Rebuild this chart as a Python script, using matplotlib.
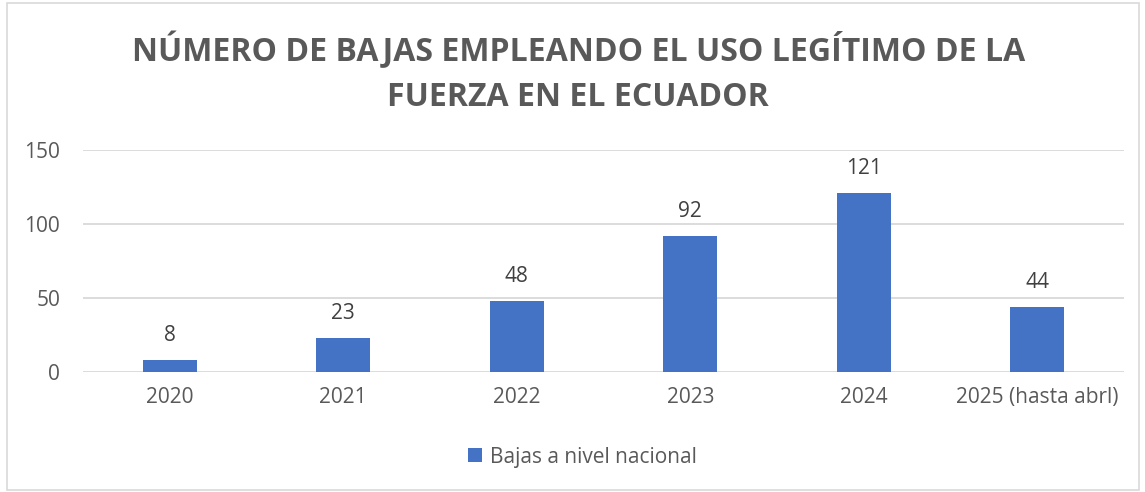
import matplotlib
matplotlib.use("Agg")
import matplotlib.pyplot as plt
from matplotlib.patches import Rectangle

categories = ["2020", "2021", "2022", "2023", "2024", "2025 (hasta abrl)"]
values = [8, 23, 48, 92, 121, 44]
series_name = "Bajas a nivel nacional"
title = "NÚMERO DE BAJAS EMPLEANDO EL USO LEGÍTIMO DE LA\nFUERZA EN EL ECUADOR"
yticks = [0, 50, 100, 150]

TXT = "#595959"
BAR = "#4472C4"
GRID = "#D9D9D9"
plt.rcParams['font.family'] = ['Open Sans', 'DejaVu Sans']

fig = plt.figure(figsize=(11.45, 4.92), dpi=100)
ax = fig.add_axes([83/1145, 1-372/492, (1124-83)/1145, (372-150)/492])

x = list(range(len(categories)))
bars = ax.bar(x, values, width=0.31, color=BAR, zorder=3, label=series_name)
for xi, v in zip(x, values):
    ax.annotate(str(v), (xi, v), xytext=(0, 10), textcoords="offset points",
                ha="center", va="bottom", fontsize=15, color="#404040")

ax.set_xlim(-0.5, len(categories) - 0.5)
ax.set_ylim(0, 150)
ax.set_yticks(yticks)
ax.set_xticks(x)
ax.set_xticklabels(categories)
ax.tick_params(axis="both", length=0, labelsize=15, labelcolor=TXT)
ax.tick_params(axis="y", pad=16.5)
ax.tick_params(axis="x", pad=11)
ax.yaxis.grid(True, color=GRID, linewidth=1.3, zorder=0)
for s in ax.spines.values():
    s.set_visible(False)

fig.text(0.505, 1-73/492, title, ha="center", va="center", fontsize=23,
         fontweight="bold", color=TXT, linespacing=1.45)

leg = fig.legend(handles=[bars], labels=[series_name], loc="center",
                 bbox_to_anchor=(0.509, 1-457/492), frameon=False, fontsize=15,
                 handlelength=0.65, handleheight=0.65, handletextpad=0.4)
for t in leg.get_texts():
    t.set_color(TXT)

fig.patches.append(Rectangle((7/1145, 2/492), (1139-7)/1145, (489-2)/492,
                             transform=fig.transFigure, fill=False,
                             edgecolor=GRID, linewidth=1.2))

fig.savefig("out.png", dpi=100, facecolor="white")
